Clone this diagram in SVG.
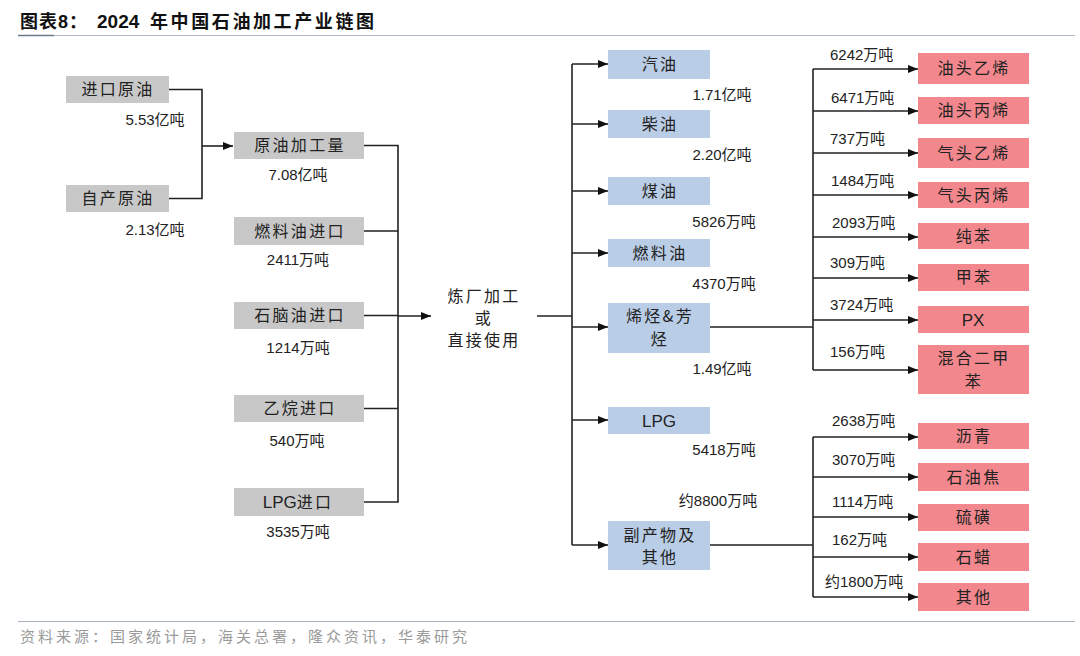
<svg xmlns="http://www.w3.org/2000/svg" width="1080" height="656" viewBox="0 0 1080 656">
<defs>
<marker id="arr" viewBox="0 0 10 8" markerUnits="userSpaceOnUse" markerWidth="10" markerHeight="8" refX="10" refY="4" orient="auto">
<path d="M0,0 L10,4 L0,8 z" fill="#111"/>
</marker>
<style>
.g{fill:#c8c8c8}
.b{fill:#b9cde6}
.r{fill:#f2888d}
.nt{font-family:"Noto Sans CJK SC","Liberation Sans",sans-serif;font-size:16px;fill:#222;text-anchor:middle;letter-spacing:2.3px}
.lat{font-family:"Liberation Sans",sans-serif;font-size:17px;letter-spacing:0}
.num{font-family:"Liberation Sans","Noto Sans CJK SC",sans-serif;font-size:15px;fill:#222}
.c{text-anchor:middle}
.ln{fill:none;stroke:#222;stroke-width:1.6}
.ar{fill:none;stroke:#222;stroke-width:1.6;marker-end:url(#arr)}
</style>
</defs>
<rect width="1080" height="656" fill="#fff"/>
<text y="28" font-family="Liberation Sans,'Noto Sans CJK SC',sans-serif" font-size="18" font-weight="bold" fill="#111"><tspan x="20" letter-spacing="1">图表8：</tspan><tspan x="97" font-size="19">2024</tspan><tspan x="150" letter-spacing="2.6">年中国石油加工产业链图</tspan></text>
<line x1="18" y1="35.5" x2="1075" y2="35.5" stroke="#aeb8c6" stroke-width="1.2"/>
<line x1="18" y1="35.5" x2="54" y2="35.5" stroke="#6c7a8e" stroke-width="1.6"/>
<line x1="18" y1="621.5" x2="1075" y2="621.5" stroke="#a6b0bc" stroke-width="1.2"/>
<text x="20" y="642" font-family="'Noto Sans CJK SC',sans-serif" font-size="15" fill="#9a9a9a" letter-spacing="3">资料来源：国家统计局，海关总署，隆众资讯，华泰研究</text>

<g id="connectors">
<path class="ln" d="M169,89.5 H202 V198.5 H169"/>
<path class="ar" d="M202,146 H233"/>
<path class="ln" d="M364,145.5 H398 V502 H364 M364,231 H398 M364,315.5 H398 M364,408.5 H398"/>
<path class="ar" d="M398,316 H431"/>
<path class="ln" d="M537,316 H572 M572,64 V545"/>
<path class="ar" d="M572,64 H608"/>
<path class="ar" d="M572,124 H608"/>
<path class="ar" d="M572,191 H608"/>
<path class="ar" d="M572,253 H608"/>
<path class="ar" d="M572,327 H608"/>
<path class="ar" d="M572,420 H608"/>
<path class="ar" d="M572,545 H608"/>
<path class="ln" d="M710,327 H813 M813,69 V370"/>
<path class="ar" d="M813,69 H918"/>
<path class="ar" d="M813,111 H918"/>
<path class="ar" d="M813,153 H918"/>
<path class="ar" d="M813,195 H918"/>
<path class="ar" d="M813,237 H918"/>
<path class="ar" d="M813,278 H918"/>
<path class="ar" d="M813,320 H918"/>
<path class="ar" d="M813,370 H918"/>
<path class="ln" d="M710,545 H813 M813,437 V597"/>
<path class="ar" d="M813,437 H918"/>
<path class="ar" d="M813,477 H918"/>
<path class="ar" d="M813,517 H918"/>
<path class="ar" d="M813,557 H918"/>
<path class="ar" d="M813,597 H918"/>
</g>

<g id="n-import-crude"><rect class="g" x="66" y="76" width="103" height="27"/><text class="nt" x="118" y="95">进口原油</text><text class="num c" x="155" y="125">5.53亿吨</text></g>
<g id="n-domestic-crude"><rect class="g" x="66" y="185" width="103" height="27"/><text class="nt" x="118" y="204">自产原油</text><text class="num c" x="155" y="235">2.13亿吨</text></g>
<g id="n-crude-proc"><rect class="g" x="234" y="132" width="130" height="27"/><text class="nt" x="300" y="151">原油加工量</text><text class="num c" x="298" y="180">7.08亿吨</text></g>
<g id="n-fuel-import"><rect class="g" x="234" y="217" width="130" height="28"/><text class="nt" x="300" y="237">燃料油进口</text><text class="num c" x="298" y="265">2411万吨</text></g>
<g id="n-naphtha-import"><rect class="g" x="234" y="302" width="130" height="27"/><text class="nt" x="300" y="321">石脑油进口</text><text class="num c" x="298" y="353">1214万吨</text></g>
<g id="n-ethane-import"><rect class="g" x="234" y="395" width="130" height="27"/><text class="nt" x="300" y="414">乙烷进口</text><text class="num c" x="297" y="446">540万吨</text></g>
<g id="n-lpg-import"><rect class="g" x="234" y="488" width="130" height="28"/><text class="nt" x="298" y="508"><tspan class="lat">LPG</tspan>进口</text><text class="num c" x="298" y="537">3535万吨</text></g>

<g id="n-refinery"><text class="nt" x="484" y="302">炼厂加工</text><text class="nt" x="484" y="324">或</text><text class="nt" x="484" y="346">直接使用</text></g>

<g id="n-gasoline"><rect class="b" x="608" y="50" width="102" height="29"/><text class="nt" x="660" y="70">汽油</text><text class="num c" x="722" y="100">1.71亿吨</text></g>
<g id="n-diesel"><rect class="b" x="608" y="110" width="102" height="28"/><text class="nt" x="660" y="130">柴油</text><text class="num c" x="722" y="160">2.20亿吨</text></g>
<g id="n-kerosene"><rect class="b" x="608" y="177" width="102" height="28"/><text class="nt" x="660" y="197">煤油</text><text class="num c" x="724" y="227">5826万吨</text></g>
<g id="n-fueloil"><rect class="b" x="608" y="239" width="102" height="28"/><text class="nt" x="660" y="259">燃料油</text><text class="num c" x="724" y="289">4370万吨</text></g>
<g id="n-olefin"><rect class="b" x="608" y="303" width="102" height="50"/><text class="nt" x="660" y="322">烯烃&amp;芳</text><text class="nt" x="660" y="345">烃</text><text class="num c" x="722" y="374">1.49亿吨</text></g>
<g id="n-lpg"><rect class="b" x="608" y="407" width="102" height="27"/><text class="nt lat" x="659" y="427">LPG</text><text class="num c" x="724" y="455">5418万吨</text></g>
<g id="n-byproduct"><text class="num c" x="718" y="506">约8800万吨</text><rect class="b" x="608" y="521" width="102" height="49"/><text class="nt" x="660" y="541">副产物及</text><text class="nt" x="660" y="563">其他</text></g>

<g id="n-naphtha-ethylene"><rect class="r" x="918" y="53" width="111" height="31"/><text class="nt" x="974" y="74">油头乙烯</text><text class="num" x="830" y="60">6242万吨</text></g>
<g id="n-naphtha-propylene"><rect class="r" x="918" y="97" width="111" height="27"/><text class="nt" x="974" y="116">油头丙烯</text><text class="num" x="831" y="103">6471万吨</text></g>
<g id="n-gas-ethylene"><rect class="r" x="918" y="138" width="111" height="30"/><text class="nt" x="974" y="159">气头乙烯</text><text class="num" x="830" y="144">737万吨</text></g>
<g id="n-gas-propylene"><rect class="r" x="918" y="182" width="111" height="26"/><text class="nt" x="974" y="201">气头丙烯</text><text class="num" x="831" y="186">1484万吨</text></g>
<g id="n-benzene"><rect class="r" x="918" y="223" width="111" height="26"/><text class="nt" x="974" y="242">纯苯</text><text class="num" x="832" y="228">2093万吨</text></g>
<g id="n-toluene"><rect class="r" x="918" y="264" width="111" height="27"/><text class="nt" x="974" y="283">甲苯</text><text class="num" x="830" y="268">309万吨</text></g>
<g id="n-px"><rect class="r" x="918" y="306" width="111" height="27"/><text class="nt lat" x="973" y="326">PX</text><text class="num" x="830" y="310">3724万吨</text></g>
<g id="n-xylene"><rect class="r" x="918" y="345" width="111" height="49"/><text class="nt" x="974" y="364">混合二甲</text><text class="nt" x="974" y="387">苯</text><text class="num" x="830" y="357">156万吨</text></g>
<g id="n-asphalt"><rect class="r" x="918" y="423" width="111" height="26"/><text class="nt" x="974" y="442">沥青</text><text class="num" x="832" y="426">2638万吨</text></g>
<g id="n-coke"><rect class="r" x="918" y="463" width="111" height="28"/><text class="nt" x="974" y="483">石油焦</text><text class="num" x="832" y="465">3070万吨</text></g>
<g id="n-sulfur"><rect class="r" x="918" y="504" width="111" height="27"/><text class="nt" x="974" y="523">硫磺</text><text class="num" x="832" y="507">1114万吨</text></g>
<g id="n-wax"><rect class="r" x="918" y="543" width="111" height="28"/><text class="nt" x="974" y="563">石蜡</text><text class="num" x="832" y="545">162万吨</text></g>
<g id="n-other"><rect class="r" x="918" y="583" width="111" height="28"/><text class="nt" x="974" y="603">其他</text><text class="num" x="825" y="587">约1800万吨</text></g>
</svg>
